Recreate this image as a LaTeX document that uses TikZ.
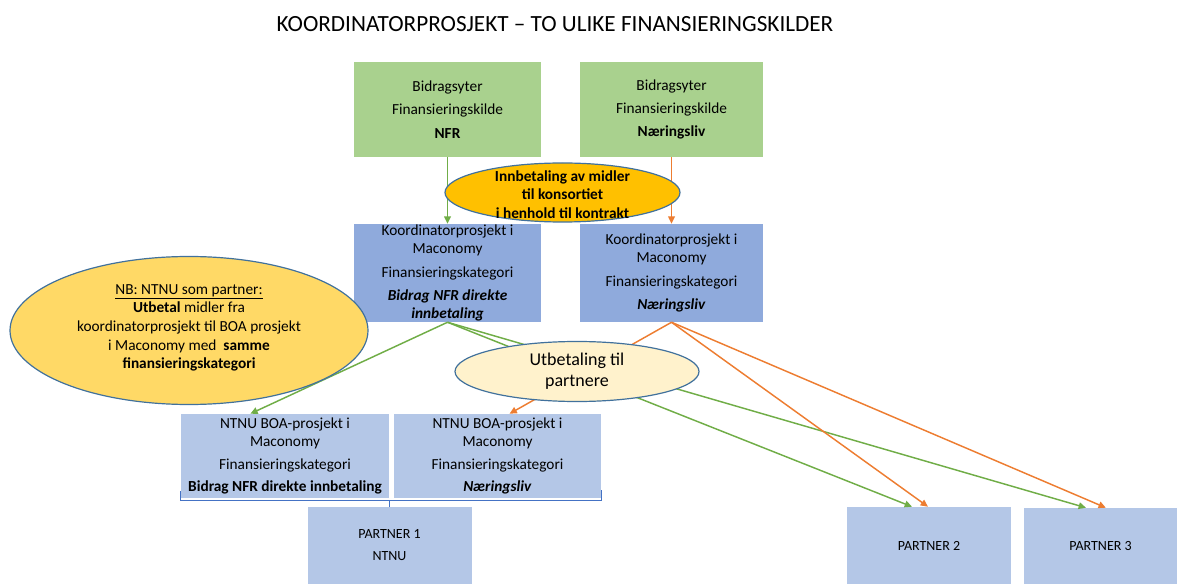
\documentclass[tikz,border=0pt]{standalone}
\usepackage{fontspec}
\setmainfont{Carlito}
\usetikzlibrary{shapes.geometric,arrows.meta}

\definecolor{srcgreen}{HTML}{A9D18E}
\definecolor{koordblue}{HTML}{8FAADC}
\definecolor{boablue}{HTML}{B4C7E7}
\definecolor{innbgold}{HTML}{FFC000}
\definecolor{notegold}{HTML}{FFD966}
\definecolor{utbcream}{HTML}{FFF2CC}
\definecolor{edgeblue}{HTML}{41719C}
\definecolor{flowgreen}{HTML}{70AD47}
\definecolor{floworange}{HTML}{ED7D31}
\definecolor{brackblue}{HTML}{4472C4}

\newcommand{\boxfont}{\fontsize{11.5}{13.5}\selectfont}

\begin{document}
\begin{tikzpicture}[x=0.75pt, y=-0.75pt,
    srcbox/.style={fill=srcgreen, minimum width=140.25pt, minimum height=71.25pt, inner sep=0pt, align=center, font=\boxfont},
    koordbox/.style={fill=koordblue, minimum width=140.25pt, minimum height=73.5pt, inner sep=0pt, align=center, font=\boxfont},
    boabox/.style={fill=boablue, minimum height=63pt, inner sep=0pt, align=center, font=\boxfont},
    partnerbox/.style={fill=boablue, minimum height=57.75pt, inner sep=0pt, align=center, font=\fontsize{10.5}{12.5}\selectfont},
    bubble/.style={ellipse, draw=edgeblue, line width=0.9pt, inner sep=0pt},
    greenflow/.style={draw=flowgreen, line width=1.1pt, -{Triangle[length=5.5pt,width=5pt]}},
    orangeflow/.style={draw=floworange, line width=1.1pt, -{Triangle[length=5.5pt,width=5pt]}},
    bracket/.style={draw=brackblue, line width=1pt}]
    \useasboundingbox (0,0) rectangle (1177,584);

    \node[font=\fontsize{17.4}{20}\selectfont] (title) at (555,24) {KOORDINATORPROSJEKT – TO ULIKE FINANSIERINGSKILDER};

    % finansieringskilder
    \node[srcbox] (srcNFR) at (447.5,109.5) {Bidragsyter\\[4pt]Finansieringskilde\\[4pt]\textbf{NFR}};
    \node[srcbox, minimum width=137.25pt] (srcNaer) at (671.5,109.5) {Bidragsyter\\[4pt]Finansieringskilde\\[4pt]\textbf{Næringsliv}};

    % koordinatorprosjekt
    \node[koordbox] (koordL) at (447.5,273) {Koordinatorprosjekt i\\Maconomy\\[4pt]Finansieringskategori\\[4pt]\textbf{\textit{Bidrag NFR direkte}}\\\textbf{\textit{innbetaling}}};
    \node[koordbox, minimum width=137.25pt] (koordR) at (671.5,273) {Koordinatorprosjekt i\\Maconomy\\[4pt]Finansieringskategori\\[4pt]\textbf{\textit{Næringsliv}}};

    % BOA-prosjekt og partnere
    \node[boabox, minimum width=156pt] (boaL) at (285,456) {NTNU BOA-prosjekt i\\Maconomy\\[4pt]Finansieringskategori\\[3pt]\textbf{Bidrag NFR direkte innbetaling}};
    \node[boabox, minimum width=155.25pt] (boaR) at (497.5,456) {NTNU BOA-prosjekt i\\Maconomy\\[4pt]Finansieringskategori\\[3pt]\textbf{\textit{Næringsliv}}};
    \node[partnerbox, minimum width=123pt] (partnerA) at (389.5,545.5) {PARTNER 1\\[4pt]NTNU};
    \node[partnerbox, minimum width=123pt] (partnerB) at (929,545.5) {PARTNER 2};
    \node[partnerbox, minimum width=114.75pt] (partnerC) at (1100.5,546.5) {PARTNER 3};

    % pengestrom
    \draw[greenflow] (srcNFR) -- (koordL);
    \draw[orangeflow] (srcNaer) -- (koordR);
    \draw[greenflow] (koordL.south) -- ([xshift=-26pt]boaL.north);
    \draw[greenflow] (koordL.south) -- ([xshift=-12.75pt]partnerB.north);
    \draw[greenflow] (koordL.south) -- ([xshift=-10.9pt]partnerC.north);
    \draw[orangeflow] (koordR.south) -- ([xshift=9pt]boaR.north);
    \draw[orangeflow] (koordR.south) -- ([xshift=-0.75pt]partnerB.north);
    \draw[orangeflow] (koordR.south) -- ([xshift=4pt]partnerC.north);

    \draw[bracket] ([yshift=5.25pt]boaL.south west) -- ([yshift=-1.5pt]boaL.south west) -| ([yshift=6pt]boaR.south east);
    \draw[bracket] (partnerA.north) -- ++(0,5.25pt);

    % ellipser
    \node[bubble, fill=innbgold, minimum width=176.25pt, minimum height=44.25pt] (innb) at (562.5,192.5) {};
    \node[align=center, font=\fontsize{11.5}{13.75}\selectfont\bfseries] (innbText) at ([yshift=-1.5pt]innb.center) {Innbetaling av midler\\til konsortiet\\i henhold til kontrakt};

    \node[bubble, fill=notegold, minimum width=268.5pt, minimum height=111pt] (note) at (189,330.5) {};
    \node[align=center, font=\fontsize{11.5}{14}\selectfont] (noteText) at ([yshift=2pt]note.center) {\underline{NB: NTNU som partner:}\\\textbf{Utbetal} midler fra\\koordinatorprosjekt til BOA prosjekt\\i Maconomy med\ \ \textbf{samme}\\\textbf{finansieringskategori}};

    \node[bubble, fill=utbcream, minimum width=183pt, minimum height=45pt] (utb) at (577,371.5) {};
    \node[align=center, font=\fontsize{13.5}{15.75}\selectfont] (utbText) at (utb) {Utbetaling til\\partnere};
\end{tikzpicture}
\end{document}
